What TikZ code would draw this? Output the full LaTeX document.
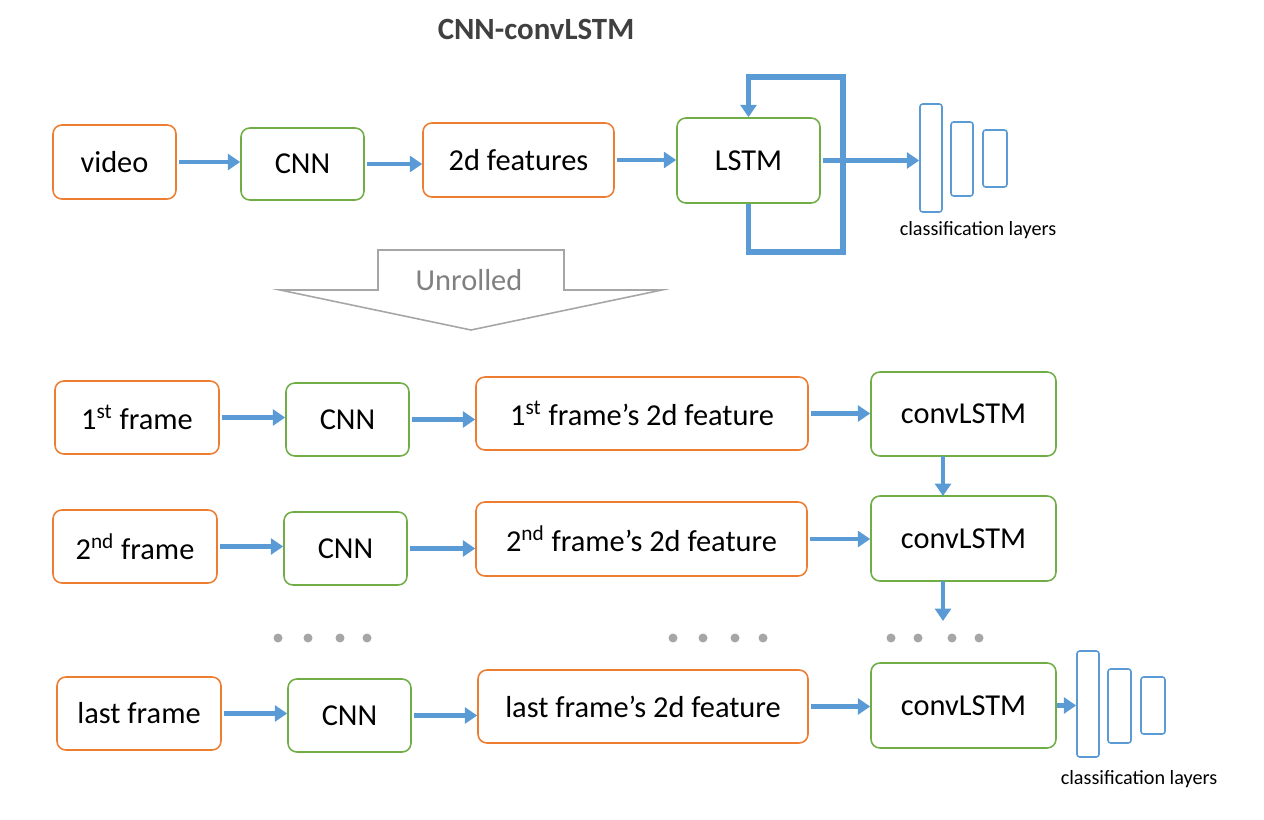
\documentclass[tikz,border=0pt]{standalone}
\usepackage{fontspec}
\setmainfont{Carlito}
\usepackage{tikz}
\usetikzlibrary{calc}
\usetikzlibrary{arrows.meta}
\usetikzlibrary{positioning}
\definecolor{carrot}{RGB}{237, 125, 49}
\definecolor{leaf}{RGB}{112, 173, 71}
\definecolor{sky}{RGB}{91, 155, 213}
\definecolor{ash}{RGB}{166, 166, 166}
\definecolor{slate}{RGB}{64, 64, 64}

\tikzset{
    databox/.style={draw=carrot, line width=0.9pt, rounded corners=5pt, fill=white,
                    font=\fontsize{17.3}{20}\selectfont, inner sep=0pt},
    netbox/.style={draw=leaf, line width=0.9pt, rounded corners=5pt, fill=white,
                   font=\fontsize{17.3}{20}\selectfont, inner sep=0pt},
    layerbox/.style={draw=sky, line width=0.9pt, rounded corners=1.5pt, minimum width=0.44cm},
    flow/.style={draw=sky, line width=2.8pt, -{Triangle[length=7pt, width=9pt]}, shorten <=1.5pt},
    loopline/.style={draw=sky, line width=3.2pt, line join=miter},
    tag/.style={font=\fontsize{11.5}{13}\selectfont}
}

\begin{document}
\begin{tikzpicture}[x=0.02cm, y=-0.02cm]
            % Canvas
            \useasboundingbox (0,0) rectangle (1264,820);
            \node[font=\fontsize{17.6}{20}\selectfont\bfseries, text=slate] (title) at (536,29) {CNN-convLSTM};
            % Folded model
            \node[databox, minimum width=2.46cm, minimum height=1.48cm] (video) at (114.5,162) {video};
            \node[netbox,  minimum width=2.46cm, minimum height=1.44cm] (cnnA)  at (302.5,164) {CNN};
            \node[databox, minimum width=3.82cm, minimum height=1.48cm] (feat)  at (518.5,160) {2d features};
            \node[netbox,  minimum width=2.86cm, minimum height=1.70cm] (lstm)  at (748.5,160.5) {LSTM};
            \draw[flow] (video.east) -- (video.east -| cnnA.west);
            \draw[flow] (cnnA.east)  -- (cnnA.east -| feat.west);
            \draw[flow] (feat.east)  -- (feat.east -| lstm.west);
            % Recurrent loop
            \coordinate (loopBot) at (843,252);
            \coordinate (loopTop) at (843,77);
            \draw[loopline] (lstm.south) |- (loopBot) -- (loopTop) -| ($(lstm.north)+(0,-14)$);
            \draw[draw=sky, line width=2.8pt, -{Triangle[length=7pt, width=9pt]}] ($(lstm.north)+(0,-16)$) -- (lstm.north);
            % Classification layers (top)
            \node[layerbox, minimum height=2.16cm]  (clsA1) at (931,158) {};
            \node[layerbox, minimum height=1.48cm]  (clsA2) at (962,159) {};
            \node[layerbox, minimum width=0.48cm, minimum height=1.14cm] (clsA3) at (995,158.5) {};
            \draw[flow] (lstm.east) -- (lstm.east -| clsA1.west);
            \node[tag] (clsAtext) at (978,230) {classification layers};
            % Unrolled arrow
            \draw[ash, line width=0.9pt, fill=white] (280,290) -- (378,290) -- (378,250) -- (564,250)
                 -- (564,290) -- (662,290) -- (471,330) -- cycle;
            \node[font=\fontsize{17.3}{20}\selectfont, text=gray] (unroll) at (469,280) {Unrolled};
            % Unrolled model: first frame
            \node[databox, minimum width=3.28cm, minimum height=1.46cm] (frameA) at (137,417.5) {1\textsuperscript{st} frame};
            \node[netbox,  minimum width=2.46cm, minimum height=1.46cm] (cnnB)   at (347.5,419.5) {CNN};
            \node[databox, minimum width=6.64cm, minimum height=1.46cm] (featB)  at (642,413.5) {1\textsuperscript{st} frame’s 2d feature};
            \node[netbox,  minimum width=3.70cm, minimum height=1.68cm] (clstmB) at (963.5,414) {convLSTM};
            % second frame
            \node[databox, minimum width=3.28cm, minimum height=1.46cm] (frameC) at (135,546.5) {2\textsuperscript{nd} frame};
            \node[netbox,  minimum width=2.46cm, minimum height=1.46cm] (cnnC)   at (345.5,548.5) {CNN};
            \node[databox, minimum width=6.62cm, minimum height=1.48cm] (featC)  at (641.5,539) {2\textsuperscript{nd} frame’s 2d feature};
            \node[netbox,  minimum width=3.70cm, minimum height=1.70cm] (clstmC) at (963.5,538.5) {convLSTM};
            % last frame
            \node[databox, minimum width=3.28cm, minimum height=1.46cm] (frameD) at (139,713.5) {last frame};
            \node[netbox,  minimum width=2.46cm, minimum height=1.46cm] (cnnD)   at (349.5,715.5) {CNN};
            \node[databox, minimum width=6.60cm, minimum height=1.46cm] (featD)  at (643,706.5) {last frame’s 2d feature};
            \node[netbox,  minimum width=3.70cm, minimum height=1.70cm] (clstmD) at (963.5,705.5) {convLSTM};
            % Horizontal flows
            \foreach \src/\dst in {frameA/cnnB, cnnB/featB, featB/clstmB,
                                   frameC/cnnC, cnnC/featC, featC/clstmC,
                                   frameD/cnnD, cnnD/featD, featD/clstmD}
                \draw[flow] (\src.east) -- (\src.east -| \dst.west);
            % Vertical flows
            \coordinate (gapEnd) at (943,621);
            \draw[flow, shorten <=0pt] (943,456) -- (943,496);
            \draw[flow, shorten <=0pt] (943,581) -- (gapEnd);
            % Dots
            \foreach \dx in {278,308,340,367, 673,703,735,763, 891,918,952,979}
                \fill[ash] (\dx,638) circle (4.5);
            % Classification layers (bottom)
            \node[layerbox, minimum height=2.12cm]  (clsB1) at (1088,704) {};
            \node[layerbox, minimum width=0.46cm, minimum height=1.48cm] (clsB2) at (1119.5,706) {};
            \node[layerbox, minimum width=0.48cm, minimum height=1.14cm] (clsB3) at (1153,705.5) {};
            \draw[flow, shorten <=0pt] (clstmD.east) -- (clstmD.east -| clsB1.west);
            \node[tag] (clsBtext) at (1139,779) {classification layers};
\end{tikzpicture}
\end{document}
